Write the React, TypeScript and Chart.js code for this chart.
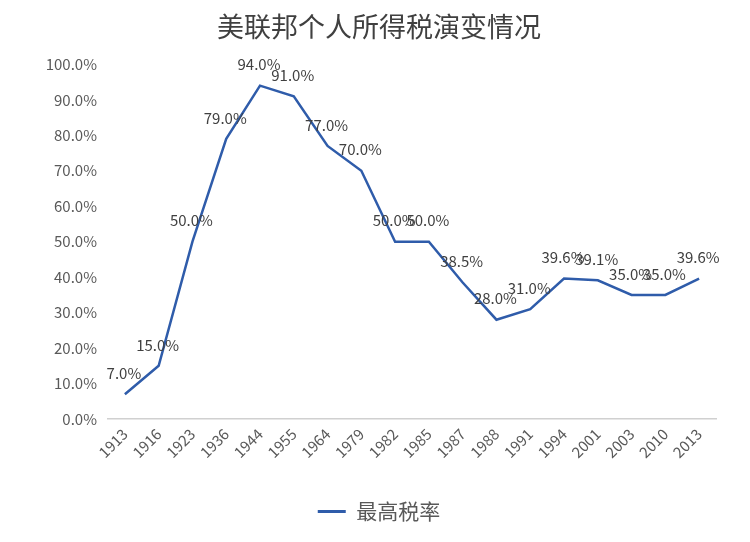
import React, { useEffect, useRef } from "react";
import { Chart, registerables } from "chart.js";

Chart.register(...registerables);

const categories = ["1913", "1916", "1923", "1936", "1944", "1955", "1964", "1979", "1982", "1985", "1987", "1988", "1991", "1994", "2001", "2003", "2010", "2013"];
const topRate = [7.0, 15.0, 50.0, 79.0, 94.0, 91.0, 77.0, 70.0, 50.0, 50.0, 38.5, 28.0, 31.0, 39.6, 39.1, 35.0, 35.0, 39.6];
const yTicks = [0, 10, 20, 30, 40, 50, 60, 70, 80, 90, 100];
const seriesName = "最高税率";
const titleText = "美联邦个人所得税演变情况";

const FONT = "'Noto Sans CJK SC', 'Noto Sans', sans-serif";
const LINE_COLOR = "#2f5caa";

const dataLabelPlugin = {
  id: "dataLabels",
  afterDatasetsDraw(chart: any) {
    const ctx = chart.ctx;
    const meta = chart.getDatasetMeta(0);
    const data = chart.data.datasets[0].data as number[];
    ctx.save();
    ctx.font = `15px ${FONT}`;
    ctx.fillStyle = "#404040";
    ctx.textAlign = "center";
    ctx.textBaseline = "middle";
    meta.data.forEach((pt: any, i: number) => {
      ctx.fillText(data[i].toFixed(1) + "%", pt.x - 1, pt.y - 21);
    });
    ctx.restore();
  },
};

const bgPlugin = {
  id: "bg",
  beforeDraw(chart: any) {
    const ctx = chart.ctx;
    ctx.save();
    ctx.fillStyle = "#ffffff";
    ctx.fillRect(0, 0, chart.width, chart.height);
    ctx.restore();
  },
};

export default function App() {
  const ref = useRef<HTMLCanvasElement>(null);
  useEffect(() => {
    if (!ref.current) return;
    const chart = new Chart(ref.current, {
      type: "line",
      data: {
        labels: categories,
        datasets: [
          {
            label: seriesName,
            data: topRate,
            borderColor: LINE_COLOR,
            backgroundColor: LINE_COLOR,
            borderWidth: 2.5,
            pointRadius: 0,
            tension: 0,
          },
        ],
      },
      options: {
        animation: false,
        responsive: false,
        layout: { padding: { left: 42, right: 34, top: 0, bottom: 10 } },
        plugins: {
          title: {
            display: true,
            text: titleText,
            color: "#404040",
            font: { family: FONT, size: 27, weight: "normal" },
            padding: { top: 11, bottom: 21 },
          },
          legend: {
            position: "bottom",
            labels: {
              color: "#595959",
              font: { family: FONT, size: 21 },
              boxWidth: 28,
              boxHeight: 0,
              padding: 10,
              generateLabels: () => [
                {
                  text: seriesName,
                  strokeStyle: LINE_COLOR,
                  fillStyle: LINE_COLOR,
                  lineWidth: 3,
                  fontColor: "#595959",
                  datasetIndex: 0,
                } as any,
              ],
            },
          },
          tooltip: { enabled: false },
        },
        scales: {
          x: {
            offset: true,
            grid: { display: false, drawTicks: false },
            border: { display: true, color: "#d0d0d0", width: 1.5 },
            afterFit: (scale: any) => {
              scale.height = 72;
            },
            ticks: {
              color: "#595959",
              font: { family: FONT, size: 15 },
              minRotation: 45,
              maxRotation: 45,
              autoSkip: false,
              padding: 6,
            },
          },
          y: {
            min: 0,
            max: 100,
            grid: { display: false, drawTicks: false },
            border: { display: false },
            afterBuildTicks: (scale: any) => {
              scale.ticks = yTicks.map((v) => ({ value: v }));
            },
            afterFit: (scale: any) => {
              scale.width = 66;
            },
            ticks: {
              color: "#595959",
              font: { family: FONT, size: 15 },
              padding: 11,
              callback: (v: any) => Number(v).toFixed(1) + "%",
            },
          },
        },
      },
      plugins: [bgPlugin, dataLabelPlugin],
    });
    return () => chart.destroy();
  }, []);
  return (
    <div style={{ position: "absolute", left: 0, top: 0, width: 750, height: 542, background: "#fff" }}>
      <canvas ref={ref} width={750} height={542} style={{ width: 750, height: 542 }} />
    </div>
  );
}
